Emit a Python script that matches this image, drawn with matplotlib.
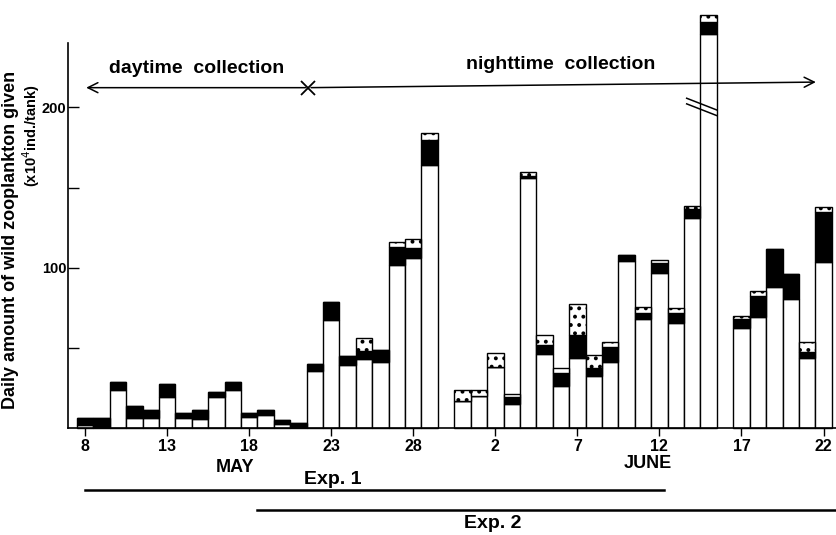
import numpy as np
import pandas as pd
import matplotlib
matplotlib.use("Agg")
import matplotlib.pyplot as plt
import matplotlib.transforms as mtransforms

# daily amounts (x10^4 ind./tank), split in 3 parts: open / black / dotted
dates = ["05-08", "05-09", "05-10", "05-11", "05-12", "05-13", "05-14", "05-15",
         "05-16", "05-17", "05-18", "05-19", "05-20", "05-21", "05-22", "05-23",
         "05-24", "05-25", "05-26", "05-27", "05-28", "05-29", "05-31", "06-01",
         "06-02", "06-03", "06-04", "06-05", "06-06", "06-07", "06-08", "06-09",
         "06-10", "06-11", "06-12", "06-13", "06-14", "06-15", "06-17", "06-18",
         "06-19", "06-20", "06-21", "06-22"]
white = [2, 0.5, 23.5, 6, 6, 19.5, 6.5, 5.5, 19.5, 24, 7, 8, 2.7, 0.5, 35.5, 67.4,
         39.3, 43, 41.4, 101.6, 105.8, 164, 17, 20, 38.2, 15, 156, 46, 26, 43.5,
         32.4, 41.4, 104.2, 67.9, 96.8, 65.3, 130.7, 246, 62.2, 69.4, 87.8, 80.5,
         43.5, 103.7]
black = [4, 5.5, 5.3, 7.5, 5, 8, 3, 5.5, 3, 5, 2.2, 3, 2.3, 2.8, 4.2, 11,
         5.6, 5, 7.2, 11.4, 6.6, 15.7, 0, 0, 0, 4.5, 1.5, 5.7, 8, 14.5,
         4.8, 9.4, 3.5, 4.1, 5.9, 6.2, 5.8, 7.5, 5.6, 12.9, 23.7, 15.5,
         4.1, 30.8]
dotted = [0, 0, 0, 0, 0, 0, 0, 0, 0, 0, 0, 0, 0, 0, 0, 0,
          0, 8.3, 0, 2.8, 5.2, 4.2, 6.7, 3.7, 8.3, 2, 2.5, 6.6, 3.6, 19.4,
          8.3, 3.1, 0, 3.7, 2, 3.1, 2.1, 4.1, 2.1, 3.2, 0, 0,
          6.3, 3.1]

tick_days = [0, 5, 10, 15, 20, 25, 30, 35, 40, 45]
tick_labels = ["8", "13", "18", "23", "28", "2", "7", "12", "17", "22"]
ytick_vals = [50, 100, 150, 200]
ytick_labels = ["", "100", "", "200"]

W, H = 837, 535
SANS = ["Liberation Sans", "DejaVu Sans"]

start = pd.Timestamp("2000-05-08")
x = np.array([(pd.Timestamp("2000-" + d) - start).days for d in dates])
white = np.array(white)
black = np.array(black)
dotted = np.array(dotted)

plt.rcParams["hatch.linewidth"] = 1.6
fig = plt.figure(figsize=(W / 100, H / 100), dpi=100)
ax = fig.add_axes([68 / W, 107 / H, 769 / W, 420 / H])

kw = dict(width=1.0, edgecolor="black", linewidth=1.0, clip_on=False)
ax.bar(x, white, color="white", **kw)
ax.bar(x, black, bottom=white, color="black", **kw)
ax.bar(x, dotted, bottom=white + black, color="white", hatch="..", **kw)

ax.set_xlim(-1.04, 45.82)
ax.set_ylim(0, 262)
ax.spines["top"].set_visible(False)
ax.spines["right"].set_visible(False)
ax.spines["left"].set_bounds(0, 240)
ax.spines["left"].set_linewidth(1.2)
ax.spines["bottom"].set_linewidth(1.2)

ax.set_xticks(tick_days)
ax.set_xticklabels(tick_labels, family=SANS, fontweight="bold", fontsize=11.5)
ax.tick_params(axis="x", direction="out", length=6, width=1, pad=2)
ax.set_yticks(ytick_vals)
ax.set_yticklabels(ytick_labels, family=SANS, fontweight="bold", fontsize=10.5)
ax.tick_params(axis="y", direction="in", length=8, width=1, pad=1)

# collection period arrows
ax.annotate("", xy=(-0.1, 212.3), xytext=(13.6, 212.3),
            arrowprops=dict(arrowstyle="->", lw=1.1, color="black", mutation_scale=18))
ax.annotate("", xy=(44.7, 215.8), xytext=(13.6, 212.3),
            arrowprops=dict(arrowstyle="->", lw=1.1, color="black", mutation_scale=18))
ax.plot([13.6], [212.3], marker="x", color="black", ms=10, mew=1.3)
ax.text(6.8, 224, "daytime  collection", ha="center", va="center",
        fontsize=14, family=SANS, fontweight="bold")
ax.text(29.0, 227, "nighttime  collection", ha="center", va="center",
        fontsize=14, family=SANS, fontweight="bold")

# axis break on the tall bar
for dy in (0, -3.5):
    ax.plot([36.66, 38.49], [205.7 + dy, 198.4 + dy], color="black", lw=1.1, clip_on=False)

# month labels and experiment periods
fig.text(235 / W, 1 - 467 / H, "MAY", ha="center", va="center", family=SANS,
         fontweight="bold", fontsize=13)
fig.text(648 / W, 1 - 464 / H, "JUNE", ha="center", va="center", family=SANS,
         fontweight="bold", fontsize=13)
fig.text(333 / W, 1 - 479 / H, "Exp. 1", ha="center", va="center", family=SANS,
         fontweight="bold", fontsize=14)
fig.text(493 / W, 1 - 524 / H, "Exp. 2", ha="center", va="center", family=SANS,
         fontweight="bold", fontsize=14)
trans = mtransforms.blended_transform_factory(ax.transData, fig.transFigure)
ax.plot([0, 35.3], [1 - 490 / H] * 2, color="black", lw=1.8, transform=trans, clip_on=False)
ax.plot([10.5, 45.7], [1 - 510 / H] * 2, color="black", lw=1.8, transform=trans, clip_on=False)

fig.text(11 / W, 1 - 240 / H, "Daily amount of wild zooplankton given", rotation=90,
         ha="center", va="center", fontsize=13, fontweight="bold", family=SANS)
fig.text(31 / W, 1 - 136 / H, r"(x10$^{4}$ind./tank)", rotation=90,
         ha="center", va="center", fontsize=10.5, fontweight="bold", family=SANS)

fig.savefig("out.png", dpi=100)
